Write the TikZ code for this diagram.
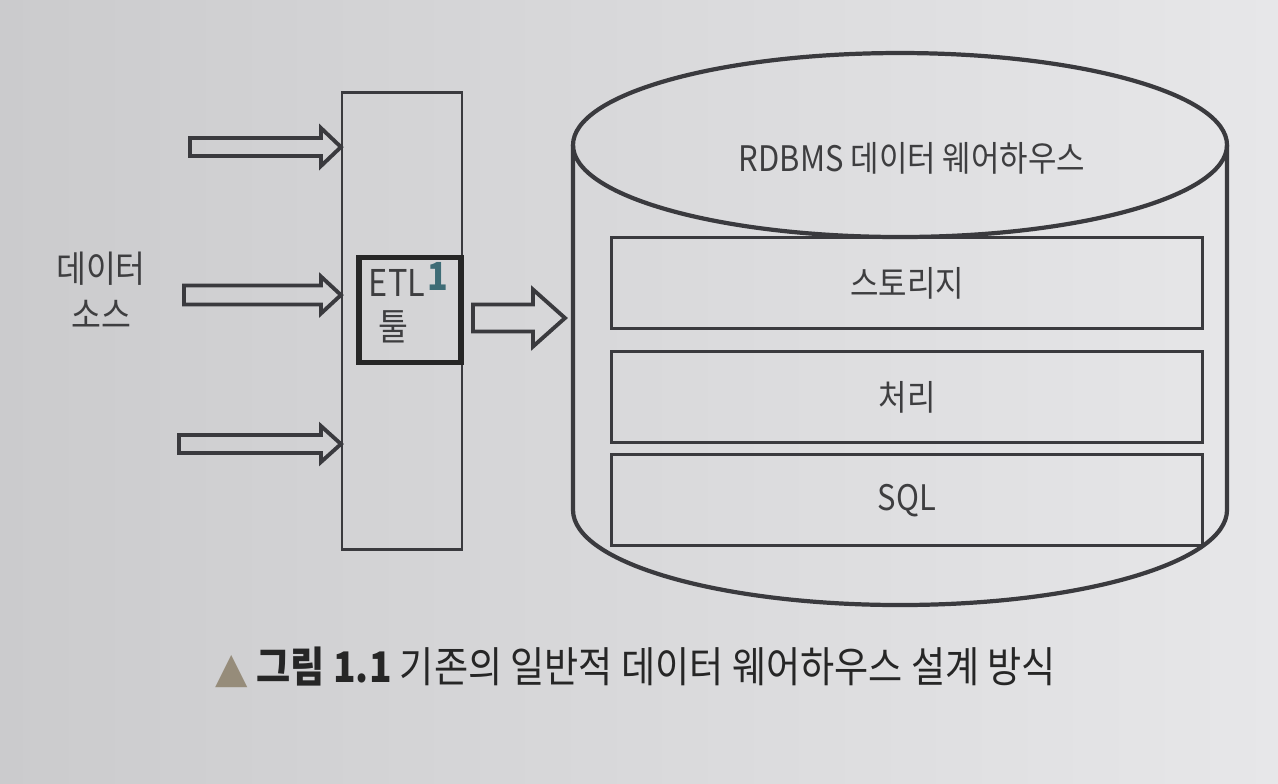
\documentclass[tikz,border=0pt]{standalone}
\usepackage{fontspec}
\setmainfont{Noto Sans CJK KR}[FakeStretch=0.88]
\newfontfamily\symfont{DejaVu Sans}
\usetikzlibrary{positioning, calc}

\definecolor{ink}{RGB}{58,58,62}
\definecolor{txt}{RGB}{62,62,64}
\definecolor{paperL}{RGB}{203,203,205}
\definecolor{paperR}{RGB}{231,231,233}
\definecolor{pen}{RGB}{62,108,118}
\definecolor{mark}{RGB}{150,140,122}

% hollow block arrow: tail, tip, shaft half, head half, head length
\newcommand{\blockarrow}[5]{%
  \draw[fatarrow] let \p1=(#1), \p2=(#2) in
    (\x1,\y2+#3) -- (\x2-#5,\y2+#3) -- (\x2-#5,\y2+#4) -- (\x2,\y2)
    -- (\x2-#5,\y2-#4) -- (\x2-#5,\y2-#3) -- (\x1,\y2-#3) -- cycle;}

\begin{document}
\begin{tikzpicture}[
      x=0.1mm, y=0.1mm,
      column/.style={rectangle, draw=ink, line width=0.6pt, minimum width=12mm, minimum height=45.7mm},
      layer/.style={rectangle, draw=ink, line width=0.9pt, minimum width=59.1mm, minimum height=9.1mm, text=txt, font=\fontsize{10}{12}\selectfont},
      lbl/.style={text=txt, font=\fontsize{10}{12}\selectfont, inner sep=0pt, align=center},
      handbox/.style={rectangle, draw=black!85, line width=1.5pt, minimum width=10.2mm, minimum height=10.5mm},
      fatarrow/.style={draw=ink, line width=1.1pt, line join=miter},
      drum/.style={draw=ink, line width=1.2pt}
    ]

    % paper
    \shade[left color=paperL, right color=paperR] (0,0) rectangle (1278,-783);

    \node[column] (etlcol) at (402,-321) {};
    \node[handbox] (etlbox) at (410,-310) {};
    \node[lbl, font=\fontsize{10.5}{12}\selectfont] (etl) at (397,-283) {ETL};
    \node[lbl, font=\fontsize{10.5}{12}\selectfont] (tool) at (393,-327) {툴};
    \node[text=pen, font=\fontsize{11}{12}\selectfont\bfseries, inner sep=0pt] (fn) at (438,-276) {1};

    \node[lbl, font=\fontsize{10.5}{13}\selectfont] (src) at (101,-290) {데이터\\소스};

    % cylinder
    \draw[drum] (900,-145) ellipse [x radius=327, y radius=92];
    \draw[drum] (573,-145) -- (573,-510) arc[start angle=180, end angle=360, x radius=327, y radius=95] -- (1227,-145);

    \node[lbl] (dw) at (912,-158) {RDBMS 데이터 웨어하우스};
    \node[layer] (store) at (907,-283) {스토리지};
    \node[layer, below=2mm of store] (proc) {처리};
    \node[layer, below=0.9mm of proc] (sqlbox) {SQL};

    % arrows
    \coordinate (in1) at (190,-147);
    \coordinate (in2) at (184,-295);
    \coordinate (in3) at (179,-444);
    \coordinate (out) at ([xshift=1mm]etlcol.east |- 0,-318);
    \blockarrow{in1}{etlcol.west |- in1}{0.9mm}{1.9mm}{2mm}
    \blockarrow{in2}{etlcol.west |- in2}{0.95mm}{1.85mm}{2mm}
    \blockarrow{in3}{etlcol.west |- in3}{0.9mm}{1.8mm}{2mm}
    \blockarrow{out}{565,-318}{1.35mm}{2.85mm}{3.2mm}

    \node[text=black!85, font=\fontsize{12}{14}\selectfont, inner sep=0pt] (cap) at (636,-667)
      {{\symfont\color{mark}▲} \textbf{그림 1.1} 기존의 일반적 데이터 웨어하우스 설계 방식};
  \end{tikzpicture}
\end{document}
